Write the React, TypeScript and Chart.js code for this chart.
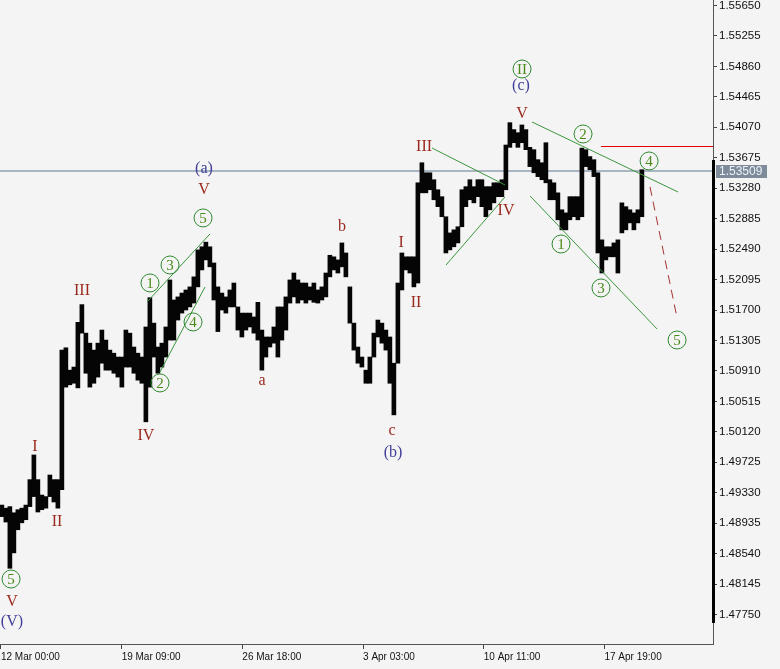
import React, { useEffect, useRef } from 'react';
import { Chart, registerables } from 'chart.js';

Chart.register(...registerables);

// ---- axis data ----
const X_TICK_HOURS = [0, 129, 258, 387, 516, 645];
const X_TICK_LABELS = ['12 Mar 00:00', '19 Mar 09:00', '26 Mar 18:00', '3 Apr 03:00', '10 Apr 11:00', '17 Apr 19:00'];
const X_MIN = -1;
const X_MAX = 761;
const HOURS_PER_COLUMN = 4.275;

const Y_TICKS = [
  1.5565, 1.55255, 1.5486, 1.54465, 1.5407, 1.53675, 1.5328, 1.52885, 1.5249, 1.52095, 1.517,
  1.51305, 1.5091, 1.50515, 1.5012, 1.49725, 1.4933, 1.48935, 1.4854, 1.48145, 1.4775,
];
const Y_MIN = 1.47368;
const Y_MAX = 1.55721;

// ---- price data (each column aggregates ~4 hourly bars: high / low) ----
const HIGHS = [
  1.4917, 1.4913, 1.4915, 1.4907, 1.4911, 1.4913, 1.4917, 1.495, 1.4982, 1.495,
  1.493, 1.4928, 1.4956, 1.495, 1.495, 1.5118, 1.5121, 1.5092, 1.5096, 1.5154,
  1.5177, 1.514, 1.5127, 1.5118, 1.5127, 1.5144, 1.5131, 1.5118, 1.5114, 1.5109,
  1.5109, 1.5144, 1.514, 1.5122, 1.5114, 1.5109, 1.5148, 1.5186, 1.5153, 1.5122,
  1.5127, 1.5148, 1.5209, 1.5183, 1.5187, 1.5192, 1.5196, 1.52, 1.5213, 1.5248,
  1.5252, 1.5258, 1.5252, 1.5231, 1.52, 1.5192, 1.5187, 1.5196, 1.5205, 1.5174,
  1.5166, 1.5166, 1.5166, 1.5161, 1.518, 1.5144, 1.5135, 1.5135, 1.5148, 1.5174,
  1.5174, 1.5187, 1.5209, 1.5218, 1.5209, 1.5205, 1.5205, 1.52, 1.5205, 1.5196,
  1.52, 1.5218, 1.5241, 1.5239, 1.5235, 1.5257, 1.5244, 1.52, 1.5153, 1.5122,
  1.5109, 1.5092, 1.5109, 1.514, 1.5157, 1.5153, 1.5144, 1.5135, 1.5101, 1.5205,
  1.5244, 1.5239, 1.5239, 1.5239, 1.5335, 1.5361, 1.5348, 1.5348, 1.5339, 1.5326,
  1.5317, 1.5291, 1.527, 1.5274, 1.5278, 1.5326, 1.533, 1.5339, 1.533, 1.5339,
  1.5339, 1.533, 1.533, 1.5335, 1.5335, 1.5339, 1.5384, 1.5413, 1.5404, 1.54,
  1.541, 1.5404, 1.5381, 1.5378, 1.5365, 1.5361, 1.5387, 1.5339, 1.5335, 1.5322,
  1.53, 1.5296, 1.5317, 1.5317, 1.5317, 1.538, 1.5378, 1.5369, 1.5365, 1.5348,
  1.5261, 1.5252, 1.5252, 1.5257, 1.5261, 1.5309, 1.5304, 1.53, 1.5296, 1.53, 1.5352,
];
const LOWS = [
  1.4902, 1.4895, 1.4835, 1.4855, 1.4885, 1.4894, 1.4898, 1.4915, 1.4928, 1.4908,
  1.4911, 1.4913, 1.4928, 1.4921, 1.4913, 1.4937, 1.507, 1.5073, 1.5075, 1.5069,
  1.514, 1.5088, 1.507, 1.5075, 1.5083, 1.5101, 1.5092, 1.5092, 1.5088, 1.5083,
  1.507, 1.5096, 1.5096, 1.5088, 1.5079, 1.5075, 1.5025, 1.507, 1.5109, 1.5088,
  1.5096, 1.5109, 1.5131, 1.5131, 1.5157, 1.5166, 1.517, 1.5174, 1.5179, 1.52,
  1.5222, 1.5235, 1.5226, 1.5183, 1.5142, 1.517, 1.5166, 1.5174, 1.5174, 1.5144,
  1.5135, 1.5144, 1.5148, 1.514, 1.5131, 1.5092, 1.5109, 1.5122, 1.5127, 1.5109,
  1.5131, 1.5144, 1.5179, 1.5187, 1.5179, 1.5183, 1.5179, 1.5183, 1.518, 1.5179,
  1.5183, 1.5187, 1.5213, 1.5222, 1.5218, 1.5226, 1.5213, 1.5153, 1.5118, 1.5101,
  1.5096, 1.5075, 1.5075, 1.5109, 1.5135, 1.5127, 1.5118, 1.5075, 1.5034, 1.5101,
  1.5196, 1.5222, 1.5218, 1.52, 1.5205, 1.5322, 1.5322, 1.5326, 1.5313, 1.5304,
  1.5291, 1.5244, 1.5248, 1.5252, 1.5257, 1.5278, 1.5304, 1.5313, 1.5309, 1.5317,
  1.5304, 1.5291, 1.53, 1.5309, 1.5317, 1.5317, 1.5326, 1.5381, 1.5387, 1.5381,
  1.5387, 1.5378, 1.5356, 1.5348, 1.5343, 1.5339, 1.5335, 1.5313, 1.5313, 1.5287,
  1.5274, 1.5274, 1.5287, 1.5291, 1.5287, 1.5291, 1.5356, 1.5352, 1.5343, 1.5244,
  1.5218, 1.5235, 1.5239, 1.5239, 1.5218, 1.527, 1.5274, 1.5283, 1.5274, 1.5283, 1.5291,
];

// ---- levels ----
const CURRENT_PRICE = 1.53509;
const RESISTANCE_PRICE = 1.53827;
const RESISTANCE_FROM_HOUR = 641.3;
const AXIS_MARK_TOP = 1.53646;
const AXIS_MARK_BOTTOM = 1.47641;

// ---- wave labels: [hour, price, text] ----
const MINOR_LABELS: [number, number, string][] = [
  [11.8, 1.47913, 'V'],
  [36.4, 1.49923, 'I'],
  [59.9, 1.48951, 'II'],
  [86.6, 1.51947, 'III'],
  [155.0, 1.50066, 'IV'],
  [217.0, 1.53257, 'V'],
  [279.0, 1.50779, 'a'],
  [364.5, 1.52777, 'b'],
  [418.0, 1.50131, 'c'],
  [427.6, 1.52569, 'I'],
  [443.6, 1.51791, 'II'],
  [452.2, 1.53814, 'III'],
  [539.8, 1.52984, 'IV'],
  [556.9, 1.54242, 'V'],
];
const INTER_LABELS: [number, number, string][] = [
  [11.8, 1.47654, '(V)'],
  [217.0, 1.53529, '(a)'],
  [419.0, 1.49846, '(b)'],
  [555.8, 1.54606, '(c)'],
];
const CIRCLED_LABELS: [number, number, string][] = [
  [10.8, 1.48211, '5'],
  [159.3, 1.52051, '1'],
  [170.0, 1.50754, '2'],
  [180.7, 1.52284, '3'],
  [205.3, 1.51545, '4'],
  [216.0, 1.52894, '5'],
  [556.9, 1.54826, 'II'],
  [598.6, 1.52556, '1'],
  [622.1, 1.53983, '2'],
  [641.3, 1.51986, '3'],
  [692.7, 1.53633, '4'],
  [722.6, 1.51311, '5'],
];
// ---- trend lines: [hour1, price1, hour2, price2] ----
const TREND_LINES: [number, number, number, number][] = [
  [156.1, 1.51804, 223.4, 1.52686],
  [170.0, 1.50896, 218.1, 1.51999],
  [460.7, 1.53801, 538.7, 1.53322],
  [475.7, 1.52284, 538.7, 1.53166],
  [567.6, 1.54139, 723.6, 1.53231],
  [565.5, 1.53179, 701.2, 1.51454],
];
const PROJECTION: [number, number, number, number] = [693.7, 1.53296, 722.6, 1.51597];

const BG = '#f4f4f4';
const RED_LABEL = '#9a2a1e';
const BLUE_LABEL = '#40409a';
const GREEN = '#3c963c';

const overlayPlugin = {
  id: 'overlay',
  beforeDraw(chart: any) {
    const c = chart.ctx;
    c.save();
    c.fillStyle = BG;
    c.fillRect(0, 0, chart.width, chart.height);
    c.restore();
  },
  beforeDatasetsDraw(chart: any) {
    const c = chart.ctx;
    const { y } = chart.scales;
    const a = chart.chartArea;
    c.save();
    const py = Math.round(y.getPixelForValue(CURRENT_PRICE));
    c.fillStyle = '#a9b5c1';
    c.fillRect(a.left, py - 1, a.right - a.left, 2);
    c.restore();
  },
  afterDatasetsDraw(chart: any) {
    const c = chart.ctx;
    const { x, y } = chart.scales;
    const a = chart.chartArea;
    c.save();
    // red resistance
    const ry = Math.round(y.getPixelForValue(RESISTANCE_PRICE)) + 0.5;
    c.strokeStyle = '#e60000';
    c.lineWidth = 1;
    c.beginPath();
    c.moveTo(x.getPixelForValue(RESISTANCE_FROM_HOUR), ry);
    c.lineTo(a.right, ry);
    c.stroke();
    // trend lines
    c.strokeStyle = GREEN;
    c.lineWidth = 1;
    TREND_LINES.forEach(([h1, p1, h2, p2]) => {
      c.beginPath();
      c.moveTo(x.getPixelForValue(h1), y.getPixelForValue(p1));
      c.lineTo(x.getPixelForValue(h2), y.getPixelForValue(p2));
      c.stroke();
    });
    // projection
    c.strokeStyle = '#a83232';
    c.setLineDash([9, 6]);
    c.beginPath();
    c.moveTo(x.getPixelForValue(PROJECTION[0]), y.getPixelForValue(PROJECTION[1]));
    c.lineTo(x.getPixelForValue(PROJECTION[2]), y.getPixelForValue(PROJECTION[3]));
    c.stroke();
    c.setLineDash([]);
    // labels
    c.textAlign = 'center';
    c.textBaseline = 'middle';
    c.font = '16px "Liberation Serif", serif';
    c.fillStyle = RED_LABEL;
    MINOR_LABELS.forEach(([h, p, t]) => c.fillText(t, x.getPixelForValue(h), y.getPixelForValue(p)));
    c.fillStyle = BLUE_LABEL;
    INTER_LABELS.forEach(([h, p, t]) => c.fillText(t, x.getPixelForValue(h), y.getPixelForValue(p)));
    CIRCLED_LABELS.forEach(([h, p, t]) => {
      const cx = x.getPixelForValue(h);
      const cy = y.getPixelForValue(p);
      c.strokeStyle = '#2f8a2f';
      c.lineWidth = 1;
      c.beginPath();
      c.arc(cx, cy, 9, 0, Math.PI * 2);
      c.stroke();
      c.fillStyle = '#4a8a18';
      c.font = '15px "Liberation Serif", serif';
      c.fillText(t, cx, cy + 1);
    });
    c.restore();
  },
  afterDraw(chart: any) {
    const c = chart.ctx;
    const { y } = chart.scales;
    const a = chart.chartArea;
    c.save();
    // thick axis marker
    const t = y.getPixelForValue(AXIS_MARK_TOP);
    const b = y.getPixelForValue(AXIS_MARK_BOTTOM);
    c.fillStyle = '#000';
    c.fillRect(a.right - 1, t, 3, b - t);
    // current price box
    const py = Math.round(y.getPixelForValue(CURRENT_PRICE));
    c.fillStyle = '#7d8b9a';
    c.fillRect(a.right + 3, py - 6, 51, 13);
    c.fillStyle = '#eef2f6';
    c.font = '12px "Liberation Sans", sans-serif';
    c.textAlign = 'left';
    c.textBaseline = 'middle';
    c.fillText(CURRENT_PRICE.toFixed(5), a.right + 6, py + 1);
    c.restore();
  },
};

export default function App() {
  const ref = useRef<HTMLCanvasElement | null>(null);
  useEffect(() => {
    if (!ref.current) return;
    const data = HIGHS.map((h, i) => ({ x: i * HOURS_PER_COLUMN + 1, y: [LOWS[i], h] }));
    const chart = new Chart(ref.current, {
      type: 'bar',
      data: {
        datasets: [
          {
            data: data as any,
            backgroundColor: '#050505',
            borderWidth: 0,
            barThickness: 4,
            grouped: false,
          } as any,
        ],
      },
      options: {
        responsive: false,
        animation: false,
        devicePixelRatio: 1,
        layout: { padding: 0 },
        plugins: { legend: { display: false }, tooltip: { enabled: false }, title: { display: false } },
        scales: {
          x: {
            type: 'linear',
            min: X_MIN,
            max: X_MAX,
            offset: false,
            position: 'bottom',
            afterBuildTicks: (s: any) => {
              s.ticks = X_TICK_HOURS.map((value) => ({ value }));
            },
            afterFit: (s: any) => {
              s.height = 25;
              s.paddingLeft = 0;
              s.paddingRight = 0;
            },
            ticks: {
              callback: (_v: any, i: number) => X_TICK_LABELS[i] ?? '',
              align: 'start',
              autoSkip: false,
              maxRotation: 0,
              minRotation: 0,
              padding: 2,
              color: '#111',
              font: { family: '"Liberation Sans", sans-serif', size: 10 },
            },
            grid: { drawOnChartArea: false, offset: false, tickLength: 5, color: '#444' },
            border: { display: true, color: '#555' },
          },
          y: {
            type: 'linear',
            position: 'right',
            min: Y_MIN,
            max: Y_MAX,
            afterBuildTicks: (s: any) => {
              s.ticks = Y_TICKS.map((value) => ({ value }));
            },
            afterFit: (s: any) => {
              s.width = 67;
              s.paddingTop = 0;
              s.paddingBottom = 0;
            },
            ticks: {
              callback: (v: any) => Number(v).toFixed(5),
              padding: 2,
              color: '#111',
              font: { family: '"Liberation Sans", sans-serif', size: 11.5 },
            },
            grid: { drawOnChartArea: false, tickLength: 4, color: '#444' },
            border: { display: true, color: '#555' },
          },
        },
      } as any,
      plugins: [overlayPlugin],
    });
    return () => chart.destroy();
  }, []);
  return (
    <div style={{ position: 'fixed', left: 0, top: 0, width: 780, height: 669, background: BG }}>
      <canvas ref={ref} width={780} height={669} style={{ width: 780, height: 669, display: 'block' }} />
    </div>
  );
}
